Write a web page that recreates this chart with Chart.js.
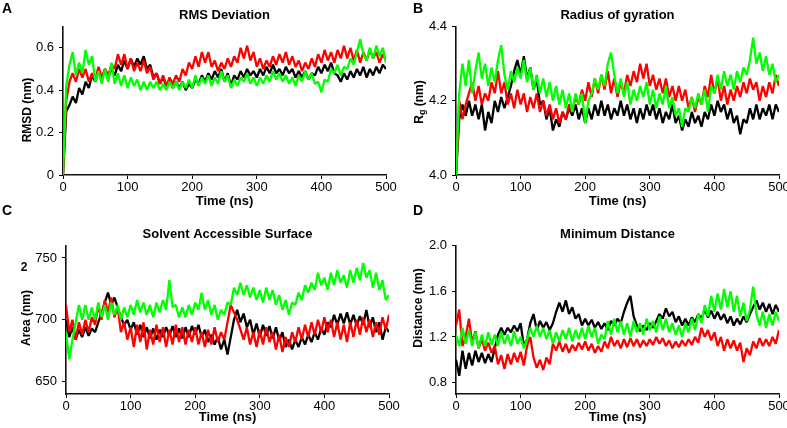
<!DOCTYPE html>
<html><head><meta charset="utf-8">
<script src="https://cdn.jsdelivr.net/npm/chart.js@4.4.1/dist/chart.umd.min.js"></script>
<style>
html,body{margin:0;padding:0;background:#fff;width:787px;height:428px;overflow:hidden;}
canvas{position:absolute;}
</style></head><body>
<canvas id="cA" width="400" height="212" style="left:0px;top:0px"></canvas>
<canvas id="cB" width="400" height="212" style="left:393px;top:0px"></canvas>
<canvas id="cC" width="403" height="228" style="left:0px;top:200px"></canvas>
<canvas id="cD" width="400" height="228" style="left:393px;top:200px"></canvas>
<script>
// ---- shared time axis (ns) ----
const times = [0,5,10,15,20,25,30,35,40,45,50,55,60,65,70,75,80,85,90,95,100,105,110,115,120,125,130,135,140,145,150,155,160,165,170,175,180,185,190,195,200,205,210,215,220,225,230,235,240,245,250,255,260,265,270,275,280,285,290,295,300,305,310,315,320,325,330,335,340,345,350,355,360,365,370,375,380,385,390,395,400,405,410,415,420,425,430,435,440,445,450,455,460,465,470,475,480,485,490,495,500];
const xTicks = [0,100,200,300,400,500];
const xTickLabels = ['0','100','200','300','400','500'];

// ---- A: RMS Deviation (nm) ----
const rmsdBlack = [0.00,0.30,0.33,0.37,0.34,0.41,0.38,0.44,0.41,0.47,0.44,0.49,0.45,0.50,0.46,0.50,0.47,0.52,0.49,0.54,0.50,0.55,0.51,0.55,0.52,0.56,0.50,0.52,0.46,0.48,0.43,0.46,0.42,0.45,0.41,0.44,0.41,0.44,0.40,0.43,0.41,0.45,0.43,0.47,0.44,0.48,0.45,0.49,0.46,0.50,0.44,0.48,0.42,0.47,0.45,0.49,0.46,0.50,0.47,0.49,0.46,0.50,0.47,0.51,0.48,0.52,0.48,0.50,0.47,0.51,0.48,0.50,0.46,0.49,0.46,0.49,0.45,0.48,0.47,0.51,0.48,0.52,0.49,0.53,0.48,0.47,0.44,0.48,0.45,0.49,0.46,0.50,0.47,0.51,0.46,0.50,0.47,0.51,0.48,0.52,0.50];
const rmsdRed = [0.00,0.35,0.44,0.48,0.44,0.50,0.46,0.50,0.44,0.48,0.45,0.51,0.46,0.50,0.47,0.52,0.50,0.57,0.52,0.57,0.50,0.55,0.49,0.53,0.49,0.54,0.48,0.51,0.45,0.48,0.43,0.47,0.42,0.46,0.43,0.47,0.44,0.50,0.47,0.53,0.50,0.56,0.51,0.58,0.53,0.58,0.51,0.54,0.49,0.53,0.50,0.55,0.51,0.56,0.53,0.60,0.55,0.61,0.54,0.58,0.51,0.55,0.50,0.54,0.51,0.56,0.52,0.57,0.53,0.58,0.52,0.56,0.51,0.54,0.49,0.53,0.50,0.55,0.51,0.57,0.53,0.59,0.54,0.58,0.53,0.59,0.55,0.61,0.55,0.60,0.54,0.59,0.53,0.58,0.54,0.59,0.55,0.58,0.53,0.57,0.54];
const rmsdGreen = [0.00,0.42,0.52,0.58,0.47,0.53,0.48,0.59,0.52,0.56,0.44,0.49,0.43,0.50,0.44,0.53,0.43,0.48,0.42,0.47,0.41,0.46,0.42,0.45,0.40,0.44,0.40,0.44,0.41,0.44,0.40,0.43,0.40,0.44,0.41,0.44,0.40,0.44,0.41,0.45,0.41,0.47,0.42,0.46,0.43,0.47,0.42,0.46,0.43,0.49,0.44,0.47,0.41,0.45,0.42,0.46,0.44,0.48,0.43,0.46,0.42,0.46,0.43,0.47,0.44,0.49,0.45,0.48,0.44,0.47,0.43,0.46,0.42,0.47,0.44,0.49,0.45,0.48,0.43,0.44,0.39,0.45,0.44,0.50,0.48,0.52,0.47,0.51,0.50,0.55,0.52,0.58,0.64,0.57,0.54,0.60,0.55,0.61,0.56,0.60,0.53];
const rmsdTicks = [0,0.2,0.4,0.6];
const rmsdTickLabels = ['0','0.2','0.4','0.6'];

// ---- B: Radius of gyration (nm) ----
const rgBlack = [4.00,4.15,4.19,4.16,4.20,4.16,4.19,4.15,4.19,4.12,4.17,4.14,4.20,4.17,4.21,4.18,4.21,4.24,4.28,4.31,4.27,4.32,4.26,4.29,4.23,4.26,4.19,4.20,4.15,4.18,4.12,4.15,4.13,4.17,4.15,4.18,4.16,4.19,4.15,4.18,4.14,4.18,4.15,4.19,4.16,4.20,4.16,4.19,4.15,4.18,4.16,4.20,4.16,4.19,4.15,4.18,4.14,4.18,4.15,4.19,4.16,4.19,4.15,4.18,4.14,4.17,4.15,4.19,4.14,4.16,4.12,4.15,4.13,4.17,4.14,4.16,4.13,4.17,4.15,4.19,4.16,4.20,4.17,4.19,4.15,4.18,4.14,4.16,4.11,4.15,4.14,4.18,4.15,4.19,4.15,4.18,4.16,4.19,4.15,4.19,4.17];
const rgRed = [4.00,4.20,4.15,4.19,4.22,4.25,4.20,4.24,4.19,4.22,4.20,4.25,4.22,4.28,4.22,4.25,4.19,4.22,4.18,4.23,4.19,4.22,4.17,4.21,4.18,4.22,4.17,4.20,4.16,4.19,4.15,4.18,4.14,4.17,4.15,4.19,4.17,4.21,4.19,4.23,4.20,4.25,4.21,4.26,4.22,4.27,4.23,4.28,4.22,4.26,4.21,4.25,4.22,4.27,4.24,4.28,4.25,4.30,4.26,4.30,4.24,4.27,4.23,4.26,4.22,4.26,4.21,4.24,4.20,4.24,4.20,4.23,4.18,4.21,4.17,4.21,4.19,4.24,4.21,4.27,4.22,4.26,4.20,4.24,4.19,4.23,4.20,4.24,4.21,4.25,4.22,4.26,4.23,4.25,4.20,4.24,4.21,4.25,4.22,4.27,4.24];
const rgGreen = [4.00,4.22,4.30,4.24,4.31,4.22,4.28,4.33,4.26,4.30,4.24,4.29,4.25,4.31,4.35,4.27,4.23,4.28,4.25,4.29,4.26,4.31,4.25,4.29,4.23,4.27,4.22,4.26,4.21,4.25,4.20,4.24,4.19,4.23,4.18,4.22,4.17,4.22,4.19,4.22,4.14,4.20,4.22,4.26,4.23,4.27,4.24,4.30,4.33,4.27,4.22,4.26,4.21,4.25,4.19,4.23,4.20,4.24,4.21,4.25,4.19,4.23,4.18,4.22,4.19,4.24,4.18,4.21,4.16,4.18,4.13,4.18,4.17,4.21,4.18,4.22,4.19,4.23,4.17,4.24,4.22,4.27,4.23,4.28,4.24,4.27,4.23,4.28,4.25,4.29,4.27,4.31,4.37,4.30,4.33,4.28,4.32,4.27,4.30,4.25,4.27];
const rgTicks = [4.0,4.2,4.4];
const rgTickLabels = ['4.0','4.2','4.4'];

// ---- C: Solvent Accessible Surface (nm^2) ----
const sasBlack = [700,686,694,684,692,686,694,687,693,690,698,705,714,722,712,718,710,702,696,700,692,698,688,696,686,694,685,693,684,692,686,694,687,695,686,693,685,694,686,695,688,696,686,692,682,688,680,686,676,684,672,686,700,708,698,705,694,700,688,697,686,696,687,695,685,694,683,690,678,684,676,684,678,686,680,688,682,690,684,693,688,698,694,704,696,705,697,706,696,704,695,703,696,708,694,702,690,698,684,694,690];
const sasRed = [712,690,700,684,698,688,700,690,702,696,712,700,716,706,718,702,710,690,698,684,694,678,696,682,698,676,692,680,696,682,694,678,692,680,696,682,694,680,692,682,694,680,690,678,692,680,694,682,690,684,698,712,706,700,692,684,694,680,690,678,692,680,694,682,690,676,688,674,686,678,690,682,694,684,696,686,698,688,700,690,702,690,700,686,698,684,696,682,698,686,700,688,702,690,700,686,698,688,702,692,704];
const sasGreen = [690,668,684,698,712,700,712,700,710,700,714,702,712,700,714,704,712,700,710,702,712,704,716,706,714,704,712,702,714,706,716,708,732,710,712,702,710,702,712,704,714,708,722,708,716,704,712,700,708,704,714,712,726,720,730,720,728,718,726,716,724,714,726,716,724,712,720,708,716,704,714,712,722,716,728,722,730,724,738,728,734,724,738,728,740,730,736,726,740,730,742,732,746,734,740,726,738,724,732,716,720];
const sasTicks = [650,700,750];
const sasTickLabels = ['650','700','750'];

// ---- D: Minimum Distance (nm) ----
const mdBlack = [1.00,0.86,1.08,0.92,1.06,0.95,1.08,0.98,1.06,0.97,1.05,0.98,1.10,1.22,1.28,1.22,1.28,1.24,1.30,1.25,1.32,1.12,1.18,1.32,1.40,1.26,1.34,1.28,1.33,1.26,1.32,1.42,1.50,1.42,1.52,1.40,1.46,1.36,1.40,1.30,1.36,1.30,1.35,1.28,1.33,1.27,1.32,1.26,1.34,1.30,1.36,1.32,1.42,1.50,1.56,1.38,1.30,1.25,1.30,1.26,1.32,1.28,1.34,1.40,1.36,1.45,1.38,1.42,1.33,1.38,1.30,1.36,1.30,1.37,1.33,1.40,1.36,1.44,1.37,1.43,1.36,1.42,1.35,1.40,1.32,1.38,1.30,1.36,1.31,1.38,1.33,1.40,1.46,1.52,1.44,1.50,1.42,1.49,1.40,1.48,1.42];
const mdRed = [1.30,1.44,1.12,1.20,1.36,1.15,1.25,1.10,1.18,1.08,1.15,1.06,1.12,0.96,1.04,0.92,1.05,0.96,1.06,0.98,1.07,0.95,1.12,1.20,1.02,0.93,1.00,0.91,1.02,0.96,1.14,1.08,1.16,1.07,1.14,1.06,1.13,1.08,1.15,1.09,1.16,1.08,1.14,1.06,1.12,1.07,1.16,1.10,1.20,1.12,1.17,1.10,1.18,1.11,1.19,1.12,1.18,1.11,1.17,1.12,1.18,1.13,1.20,1.14,1.19,1.12,1.17,1.10,1.16,1.11,1.17,1.12,1.18,1.13,1.20,1.15,1.28,1.20,1.26,1.17,1.24,1.12,1.20,1.08,1.18,1.10,1.17,1.08,1.15,0.98,1.10,1.04,1.16,1.10,1.19,1.12,1.18,1.12,1.20,1.14,1.26];
const mdGreen = [1.22,1.12,1.28,1.14,1.26,1.12,1.24,1.10,1.22,1.12,1.24,1.13,1.22,1.12,1.24,1.14,1.22,1.12,1.25,1.14,1.20,1.10,1.18,1.28,1.20,1.30,1.20,1.28,1.18,1.26,1.14,1.24,1.16,1.26,1.18,1.28,1.16,1.26,1.18,1.28,1.18,1.30,1.20,1.28,1.14,1.22,1.18,1.34,1.22,1.36,1.24,1.34,1.22,1.32,1.20,1.34,1.24,1.32,1.22,1.36,1.26,1.34,1.24,1.38,1.26,1.36,1.24,1.32,1.22,1.30,1.20,1.32,1.24,1.36,1.26,1.40,1.32,1.48,1.38,1.56,1.42,1.58,1.44,1.62,1.46,1.60,1.42,1.56,1.38,1.50,1.34,1.44,1.64,1.40,1.30,1.42,1.28,1.40,1.30,1.42,1.34];
const mdTicks = [0.8,1.2,1.6,2.0];
const mdTickLabels = ['0.8','1.2','1.6','2.0'];

const FONT = '"Liberation Sans", Arial, Helvetica, sans-serif';
const BLACK = '#000000', RED = '#ff0000', GREEN = '#00ff00';

function pts(vals){ return vals.map((v,i)=>({x: times[i], y: v})); }

function decoPlugin(d){
  return {
    id: 'deco',
    afterDraw(chart){
      const ctx = chart.ctx;
      ctx.save();
      ctx.fillStyle = '#000';
      ctx.textAlign = 'left';
      ctx.textBaseline = 'alphabetic';
      ctx.font = 'bold 14px ' + FONT;
      ctx.fillText(d.letter, d.lx, d.ly);
      // rotated y-axis title
      ctx.translate(d.tx, d.ty);
      ctx.rotate(-Math.PI/2);
      ctx.textBaseline = 'middle';
      let total = 0;
      d.parts.forEach(p=>{ ctx.font = 'bold ' + p.size + 'px ' + FONT; p.w = ctx.measureText(p.t).width; total += p.w; });
      let x = -total/2;
      d.parts.forEach(p=>{ ctx.font = 'bold ' + p.size + 'px ' + FONT; ctx.fillText(p.t, x, p.dy); x += p.w; });
      ctx.restore();
      if (d.extra){
        ctx.save();
        ctx.fillStyle = '#000';
        ctx.textAlign = 'center';
        ctx.textBaseline = 'middle';
        ctx.font = 'bold ' + d.extra.size + 'px ' + FONT;
        ctx.fillText(d.extra.t, d.extra.x, d.extra.y);
        ctx.restore();
      }
    }
  };
}

function makeChart(id, cfg){
  const el = document.getElementById(id);
  const H = el.height;
  return new Chart(el, {
    type: 'line',
    data: { datasets: [
      { data: pts(cfg.black), borderColor: BLACK, order: 3 },
      { data: pts(cfg.red), borderColor: RED, order: 2 },
      { data: pts(cfg.green), borderColor: GREEN, order: 1 }
    ]},
    options: {
      responsive: false, animation: false, devicePixelRatio: 1,
      elements: { line: { borderWidth: 2.3, tension: 0, fill: false, borderJoinStyle: 'bevel' }, point: { radius: 0 } },
      layout: { padding: { left: 0, right: el.width - cfg.right, top: 0, bottom: 0 } },
      plugins: {
        legend: { display: false }, tooltip: { enabled: false },
        title: { display: true, text: cfg.title, fullSize: false, color: '#000',
                 font: { family: FONT, size: 13, weight: 'bold' },
                 padding: { top: cfg.titleTop, bottom: cfg.titleBottom } }
      },
      scales: {
        x: {
          type: 'linear', min: 0, max: 500,
          afterFit(s){ s.height = H - cfg.bottom; },
          afterBuildTicks(s){ s.ticks = xTicks.map(v=>({value:v})); },
          grid: { display: true, drawOnChartArea: false, drawTicks: true, tickLength: 4, color: '#000', lineWidth: 1 },
          border: { display: true, color: '#111', width: 1.6 },
          ticks: { color: '#000', padding: 1, maxRotation: 0, font: { family: FONT, size: 13 },
                   callback: (v,i)=>xTickLabels[i] },
          title: { display: true, text: 'Time (ns)', color: '#000', font: { family: FONT, size: 13, weight: 'bold' },
                   padding: { top: 0, bottom: 3 } }
        },
        y: {
          type: 'linear', min: cfg.ymin, max: cfg.ymax,
          afterFit(s){ s.width = cfg.left; },
          afterBuildTicks(s){ s.ticks = cfg.yTicks.map(v=>({value:v})); },
          grid: { display: true, drawOnChartArea: false, drawTicks: true, tickLength: 4, color: '#000', lineWidth: 1 },
          border: { display: true, color: '#111', width: 1.6 },
          ticks: { color: '#000', padding: 5, font: { family: FONT, size: 13 },
                   callback: (v,i)=>cfg.yLabels[i] }
        }
      }
    },
    plugins: [decoPlugin(cfg.deco)]
  });
}

makeChart('cA', { title: 'RMS Deviation', black: rmsdBlack, red: rmsdRed, green: rmsdGreen,
  ymin: 0, ymax: 0.7, yTicks: rmsdTicks, yLabels: rmsdTickLabels,
  left: 63, right: 386, bottom: 175, titleTop: 8, titleBottom: 3,
  deco: { letter: 'A', lx: 2, ly: 13, tx: 28, ty: 110, parts: [{t:'RMSD (nm)', size:12, dy:0}] } });

makeChart('cB', { title: 'Radius of gyration', black: rgBlack, red: rgRed, green: rgGreen,
  ymin: 4.0, ymax: 4.4, yTicks: rgTicks, yLabels: rgTickLabels,
  left: 63, right: 386, bottom: 175, titleTop: 8, titleBottom: 3,
  deco: { letter: 'B', lx: 20, ly: 13, tx: 27, ty: 102, parts: [{t:'R', size:12, dy:0},{t:'g', size:9, dy:3},{t:' (nm)', size:12, dy:0}] } });

makeChart('cC', { title: 'Solvent Accessible Surface', black: sasBlack, red: sasRed, green: sasGreen,
  ymin: 640, ymax: 760, yTicks: sasTicks, yLabels: sasTickLabels,
  left: 66, right: 389, bottom: 194, titleTop: 27, titleBottom: 3,
  deco: { letter: 'C', lx: 2, ly: 15, tx: 27, ty: 118, parts: [{t:'Area (nm)', size:12, dy:0}],
          extra: { t: '2', size: 12, x: 24, y: 68 } } });

makeChart('cD', { title: 'Minimum Distance', black: mdBlack, red: mdRed, green: mdGreen,
  ymin: 0.7, ymax: 2.0, yTicks: mdTicks, yLabels: mdTickLabels,
  left: 63, right: 386, bottom: 194, titleTop: 27, titleBottom: 3,
  deco: { letter: 'D', lx: 20, ly: 15, tx: 26, ty: 108, parts: [{t:'Distance (nm)', size:12, dy:0}] } });
</script>
</body></html>
